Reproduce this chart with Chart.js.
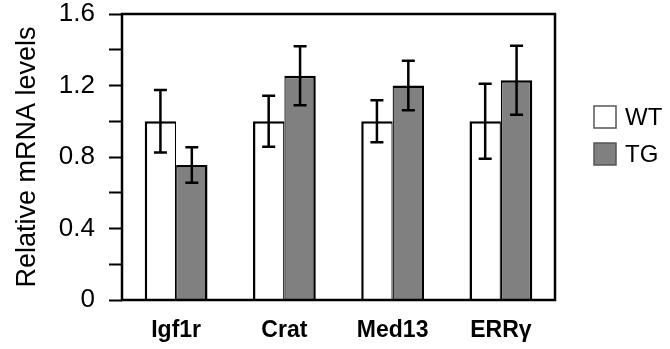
<!DOCTYPE html>
<html>
<head>
<meta charset="utf-8">
<script src="https://cdn.jsdelivr.net/npm/chart.js@4"></script>
<style>
  html, body { margin: 0; padding: 0; background: #fff; }
  #wrap { width: 670px; height: 349px; }
</style>
</head>
<body>
<div id="wrap"><canvas id="c"></canvas></div>
<script>
// values
const genes = ['Igf1r', 'Crat', 'Med13', 'ERRγ'];
const wtMeans = [1.0, 1.0, 1.0, 1.0];
const wtErr = [0.175, 0.143, 0.118, 0.21];
const tgMeans = [0.755, 1.255, 1.2, 1.229];
const tgErr = [0.099, 0.165, 0.138, 0.193];
const yLabelTicks = [0, 0.4, 0.8, 1.2, 1.6];

const FONT = '"Liberation Sans", Arial, sans-serif';

// error bars from the y scale
const errorBars = {
  id: 'errorBars',
  afterDatasetsDraw(chart) {
    const ctx = chart.ctx;
    const y = chart.scales.y;
    ctx.save();
    ctx.strokeStyle = '#000';
    ctx.lineWidth = 2.5;
    chart.data.datasets.forEach((ds, i) => {
      chart.getDatasetMeta(i).data.forEach((bar, j) => {
        const top = y.getPixelForValue(ds.data[j] + ds.err[j]);
        const bot = y.getPixelForValue(ds.data[j] - ds.err[j]);
        const x = bar.x, cap = 6.5;
        ctx.beginPath();
        ctx.moveTo(x, top); ctx.lineTo(x, bot);
        ctx.moveTo(x - cap, top); ctx.lineTo(x + cap, top);
        ctx.moveTo(x - cap, bot); ctx.lineTo(x + cap, bot);
        ctx.stroke();
      });
    });
    ctx.restore();
  }
};

// box around the plot + legend on the right
const frameAndLegend = {
  id: 'frameAndLegend',
  afterDraw(chart) {
    const ctx = chart.ctx;
    const a = chart.chartArea;
    ctx.save();
    ctx.strokeStyle = '#000';
    ctx.lineWidth = 2.5;
    ctx.strokeRect(a.left, a.top, a.right - a.left, a.bottom - a.top);

    const lx = a.right + 39, ly = a.top + 92, size = 22, gap = 37;
    ctx.font = '24px ' + FONT;
    ctx.textBaseline = 'middle';
    ctx.textAlign = 'left';
    chart.data.datasets.forEach((ds, i) => {
      const top = ly + i * gap;
      ctx.fillStyle = ds.backgroundColor;
      ctx.fillRect(lx, top, size, size);
      ctx.strokeStyle = '#555';
      ctx.lineWidth = 1.5;
      ctx.strokeRect(lx, top, size, size);
      ctx.fillStyle = '#000';
      ctx.fillText(ds.label, lx + size + 9, top + size / 2 + 1);
    });
    ctx.restore();
  }
};

new Chart(document.getElementById('c'), {
  type: 'bar',
  data: {
    labels: genes,
    datasets: [
      {
        label: 'WT', data: wtMeans, err: wtErr,
        backgroundColor: '#ffffff', borderColor: '#000',
        borderWidth: { top: 2.5, left: 2.5, right: 1.25, bottom: 0 }
      },
      {
        label: 'TG', data: tgMeans, err: tgErr,
        backgroundColor: '#808080', borderColor: '#000',
        borderWidth: { top: 2.5, left: 1.25, right: 2.5, bottom: 0 }
      }
    ]
  },
  options: {
    responsive: true,
    maintainAspectRatio: false,
    animation: false,
    layout: { padding: { left: 0, top: 0, right: 115, bottom: 0 } },
    plugins: { legend: { display: false }, tooltip: { enabled: false } },
    datasets: { bar: { categoryPercentage: 0.58, barPercentage: 1.0 } },
    scales: {
      x: {
        grid: { display: false },
        border: { display: false },
        ticks: {
          color: '#000', padding: 9,
          font: { family: FONT, size: 23, weight: 'bold' }
        },
        afterFit(s) { s.height = 49; s.paddingLeft = 0; s.paddingRight = 0; }
      },
      y: {
        min: 0, max: 1.6,
        grid: {
          drawOnChartArea: false, drawTicks: true,
          tickLength: 13, tickWidth: 2, tickColor: '#000'
        },
        border: { display: false },
        ticks: {
          stepSize: 0.2, color: '#000', padding: 14,
          font: { family: FONT, size: 26 },
          callback: (v) => yLabelTicks.some(t => Math.abs(t - v) < 1e-6)
            ? (v === 0 ? '0' : v.toFixed(1)) : ''
        },
        title: {
          display: true, text: 'Relative mRNA levels', color: '#000',
          font: { family: FONT, size: 27 }, padding: { top: 11, bottom: 0 }
        },
        afterFit(s) { s.width = 122; s.paddingTop = 14; s.paddingBottom = 0; }
      }
    }
  },
  plugins: [errorBars, frameAndLegend]
});
</script>
</body>
</html>
